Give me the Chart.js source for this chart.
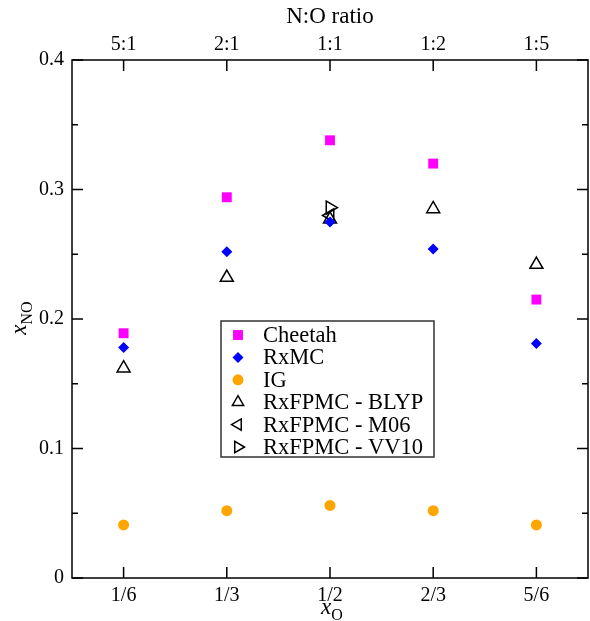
<!DOCTYPE html>
<html>
<head>
<meta charset="utf-8">
<script src="https://cdn.jsdelivr.net/npm/chart.js@4.4.1/dist/chart.umd.min.js"></script>
<style>
  html, body { margin: 0; padding: 0; background: #fff; overflow: hidden; }
  #wrap { width: 590px; height: 621px; position: relative; }
  #myChart { display: block; }
</style>
</head>
<body>
<div id="wrap"><canvas id="myChart"></canvas></div>
<script>
// x_O values and their labels
const xO = [1 / 6, 1 / 3, 1 / 2, 2 / 3, 5 / 6];
const xLabels = ["1/6", "1/3", "1/2", "2/3", "5/6"];
const ratioLabels = ["5:1", "2:1", "1:1", "1:2", "1:5"];
const yTicks = [0, 0.1, 0.2, 0.3, 0.4];

// x_NO for each method
const cheetah = [0.189, 0.294, 0.338, 0.320, 0.215];
const rxmc = [0.178, 0.252, 0.275, 0.254, 0.181];
const ig = [0.041, 0.052, 0.056, 0.052, 0.041];
const blyp = [0.162, 0.232, 0.277, 0.285, 0.242];
// M06 and VV10 only at x_O = 1/2
const m06X = [1 / 2];
const m06 = [0.280];
const vv10X = [1 / 2];
const vv10 = [0.286];

const FONT = "'Liberation Serif', 'DejaVu Serif', serif";

function pts(xs, ys) {
  return ys.map((y, i) => ({ x: xs[i], y: y }));
}

const datasets = [
  { label: "Cheetah", data: pts(xO, cheetah), pointStyle: "rect", pointRadius: 7,
    backgroundColor: "#ff00ff", borderColor: "#ff00ff", borderWidth: 0 },
  { label: "RxMC", data: pts(xO, rxmc), pointStyle: "rectRot", pointRadius: 5.5,
    backgroundColor: "#0000ff", borderColor: "#0000ff", borderWidth: 0 },
  { label: "IG", data: pts(xO, ig), pointStyle: "circle", pointRadius: 5.5,
    backgroundColor: "#ffa500", borderColor: "#ffa500", borderWidth: 0 },
  { label: "RxFPMC - BLYP", data: pts(xO, blyp), pointStyle: "triangle", pointRadius: 7.5,
    backgroundColor: "rgba(0,0,0,0)", borderColor: "#000", borderWidth: 1.5 },
  { label: "RxFPMC - M06", data: pts(m06X, m06), pointStyle: "triangle", pointRadius: 7.5,
    pointRotation: -90, backgroundColor: "rgba(0,0,0,0)", borderColor: "#000", borderWidth: 1.5 },
  { label: "RxFPMC - VV10", data: pts(vv10X, vv10), pointStyle: "triangle", pointRadius: 7.5,
    pointRotation: 90, backgroundColor: "rgba(0,0,0,0)", borderColor: "#000", borderWidth: 1.5 },
];

// frame, inward ticks, titles with subscripts, boxed legend
const decorations = {
  id: "decorations",
  afterDraw(chart) {
    const ctx = chart.ctx;
    const a = chart.chartArea;
    const xs = chart.scales.x;
    const ys = chart.scales.y;
    ctx.save();
    ctx.strokeStyle = "#000";
    ctx.lineWidth = 1.5;
    ctx.strokeRect(a.left, a.top, a.right - a.left, a.bottom - a.top);

    ctx.beginPath();
    xO.forEach((v) => {
      const px = xs.getPixelForValue(v);
      ctx.moveTo(px, a.bottom); ctx.lineTo(px, a.bottom - 11);
      ctx.moveTo(px, a.top); ctx.lineTo(px, a.top + 11);
    });
    for (let i = 0; i < yTicks.length; i++) {
      const py = ys.getPixelForValue(yTicks[i]);
      ctx.moveTo(a.left, py); ctx.lineTo(a.left + 11, py);
      ctx.moveTo(a.right, py); ctx.lineTo(a.right - 11, py);
      if (i < yTicks.length - 1) {
        const pm = ys.getPixelForValue(yTicks[i] + 0.05);
        ctx.moveTo(a.left, pm); ctx.lineTo(a.left + 6, pm);
        ctx.moveTo(a.right, pm); ctx.lineTo(a.right - 6, pm);
      }
    }
    ctx.stroke();

    // axis titles
    ctx.fillStyle = "#000";
    ctx.textBaseline = "alphabetic";
    ctx.textAlign = "center";
    ctx.font = "23px " + FONT;
    ctx.fillText("N:O ratio", (a.left + a.right) / 2, 23);

    function subTitle(x, y, main, sub) {
      ctx.font = "italic 23px " + FONT;
      const w1 = ctx.measureText(main).width;
      ctx.font = "16px " + FONT;
      const w2 = ctx.measureText(sub).width;
      const x0 = x - (w1 + w2) / 2;
      ctx.textAlign = "left";
      ctx.font = "italic 23px " + FONT;
      ctx.fillText(main, x0, y);
      ctx.font = "16px " + FONT;
      ctx.fillText(sub, x0 + w1, y + 6);
    }
    subTitle((a.left + a.right) / 2 + 2, 614, "x", "O");
    ctx.save();
    ctx.translate(26, 318);
    ctx.rotate(-Math.PI / 2);
    subTitle(0, 0, "x", "NO");
    ctx.restore();

    // legend
    const lx = 221, ly = 321, lw = 213, lh = 136;
    ctx.fillStyle = "#fff";
    ctx.fillRect(lx, ly, lw, lh);
    ctx.strokeStyle = "#333";
    ctx.lineWidth = 1.5;
    ctx.strokeRect(lx, ly, lw, lh);
    ctx.font = "22.5px " + FONT;
    ctx.textAlign = "left";
    ctx.textBaseline = "middle";
    chart.data.datasets.forEach((ds, i) => {
      const cy = ly + 14 + i * 22.4;
      ctx.fillStyle = ds.backgroundColor;
      ctx.strokeStyle = ds.borderColor;
      ctx.lineWidth = ds.borderWidth;
      Chart.helpers.drawPoint(ctx, {
        pointStyle: ds.pointStyle,
        radius: ds.pointStyle === "triangle" ? 6.5 : ds.pointRadius,
        rotation: ds.pointRotation || 0,
        borderWidth: ds.borderWidth,
      }, lx + 17, cy);
      ctx.fillStyle = "#000";
      ctx.fillText(ds.label, lx + 42, cy + 1);
    });
    ctx.restore();
  },
};

function fitX(h) {
  return (scale) => {
    scale.height = h;
    scale.paddingLeft = 0;
    scale.paddingRight = 0;
  };
}

const ctx = document.getElementById("myChart");

var chart = new Chart(ctx, {
  type: "scatter",
  data: { datasets: datasets },
  options: {
    responsive: true,
    maintainAspectRatio: false,
    animation: false,
    layout: { autoPadding: false, padding: { left: 0, right: 2, top: 0, bottom: 0 } },
    plugins: { legend: { display: false }, tooltip: { enabled: false } },
    scales: {
      x: {
        type: "linear",
        position: "bottom",
        min: 1 / 12,
        max: 11 / 12,
        afterBuildTicks: (scale) => { scale.ticks = xO.map((v) => ({ value: v })); },
        afterFit: fitX(43),
        grid: { display: false, drawTicks: false },
        border: { display: false },
        ticks: {
          padding: 6,
          color: "#000",
          font: { family: FONT, size: 20 },
          callback: (v, i) => xLabels[i],
        },
      },
      x2: {
        type: "linear",
        position: "top",
        min: 1 / 12,
        max: 11 / 12,
        afterBuildTicks: (scale) => { scale.ticks = xO.map((v) => ({ value: v })); },
        afterFit: fitX(60),
        grid: { display: false, drawTicks: false },
        border: { display: false },
        ticks: {
          padding: 3,
          color: "#000",
          font: { family: FONT, size: 20 },
          callback: (v, i) => ratioLabels[i],
        },
      },
      y: {
        min: 0,
        max: 0.4,
        afterBuildTicks: (scale) => { scale.ticks = yTicks.map((v) => ({ value: v })); },
        afterFit: (scale) => {
          scale.width = 72;
          scale.paddingTop = 0;
          scale.paddingBottom = 0;
        },
        grid: { display: false, drawTicks: false },
        border: { display: false },
        ticks: {
          padding: 8,
          color: "#000",
          font: { family: FONT, size: 20 },
          callback: (v) => String(v),
        },
      },
    },
  },
  plugins: [decorations],
});
</script>
</body>
</html>
